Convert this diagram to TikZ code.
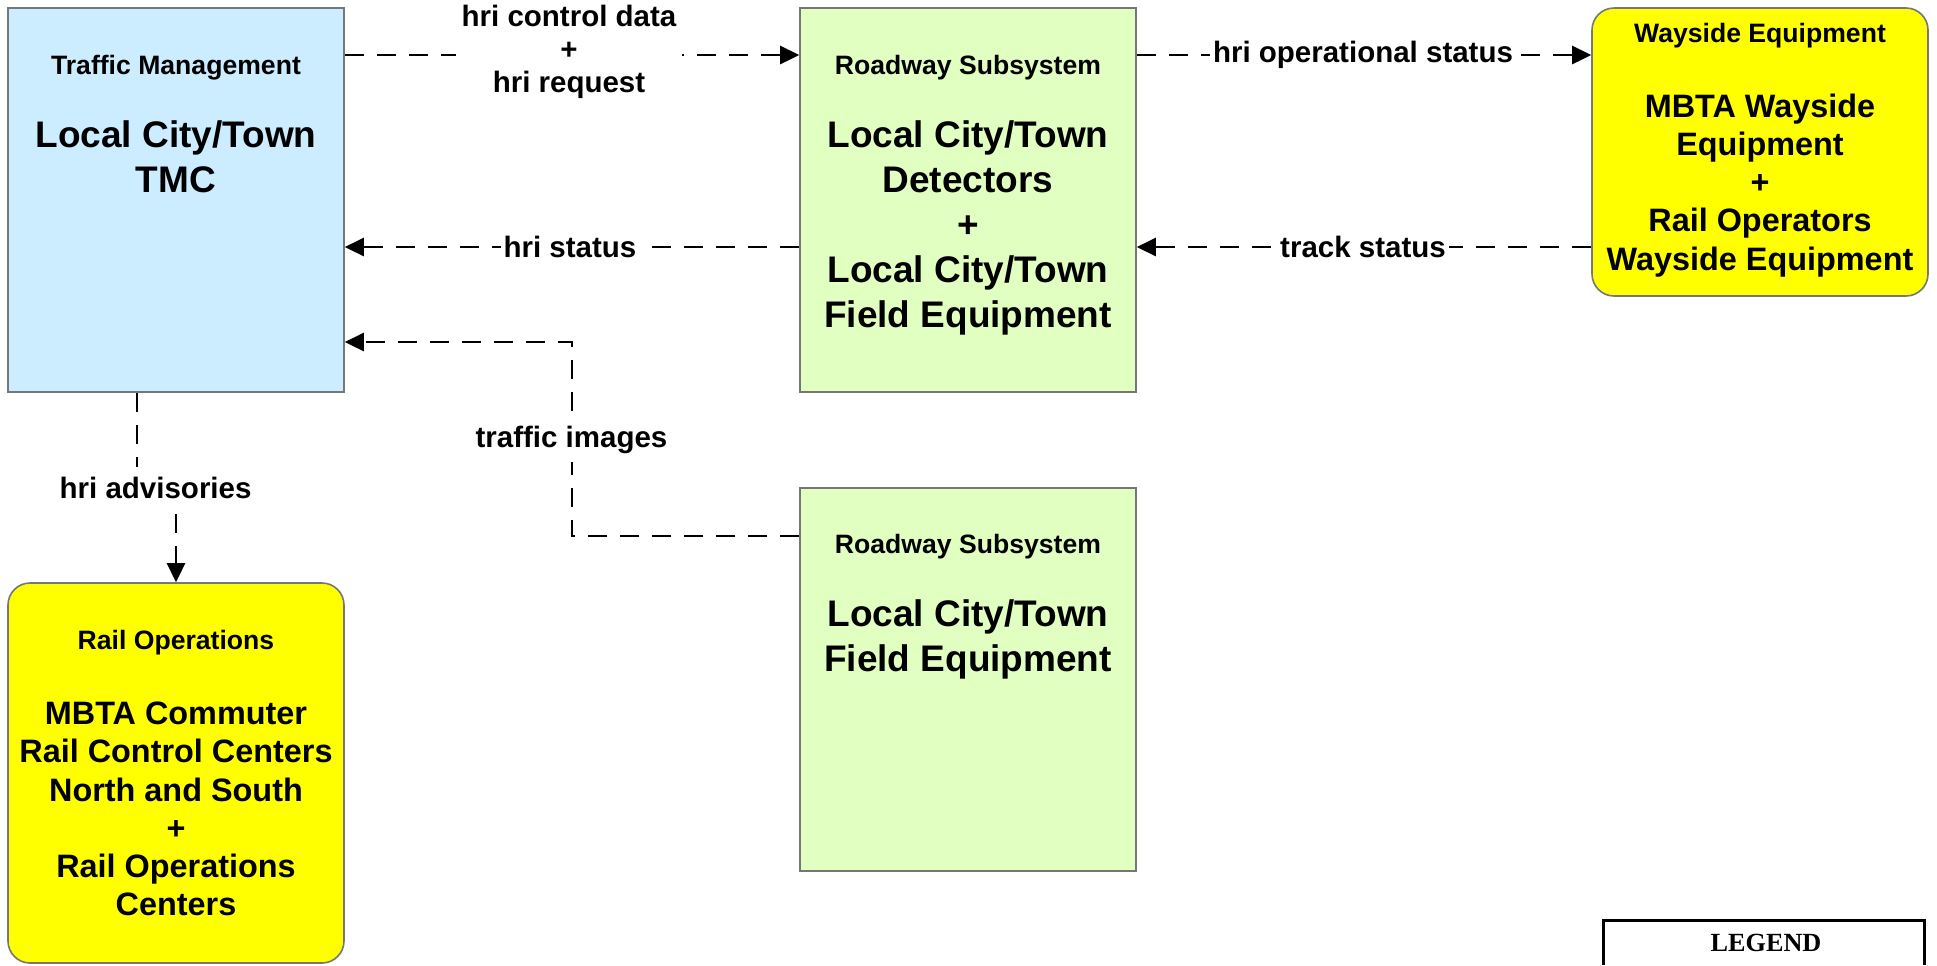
\documentclass[tikz,border=0pt]{standalone}
\usepackage{fontspec}
\setmainfont{Liberation Sans}
\newfontfamily\legendfont{Liberation Serif}
\usetikzlibrary{arrows.meta}

\definecolor{tmcblue}{RGB}{204,236,255}
\definecolor{rwgreen}{RGB}{226,255,194}
\definecolor{railyellow}{RGB}{255,255,0}
\definecolor{boxgray}{RGB}{118,118,118}

\begin{document}
\begin{tikzpicture}[x=0.5pt,y=-0.5pt,
  sysbox/.style={draw=boxgray, line width=0.8pt, inner sep=0pt, minimum width=168pt},
  rbox/.style={sysbox, rounded corners=11pt, fill=railyellow},
  hdr/.style={font=\fontsize{13.3}{16}\selectfont\bfseries, inner sep=0pt, anchor=base},
  big/.style={font=\fontsize{18.5}{22.45}\selectfont\bfseries, align=center, inner sep=0pt, anchor=north},
  mid/.style={font=\fontsize{16.2}{19.1}\selectfont\bfseries, align=center, inner sep=0pt, anchor=north},
  flow/.style={line width=1.3pt, dash pattern=on 9.5pt off 6.5pt, -{Triangle[length=9.5pt,width=9pt]}},
  flowlabel/.style={font=\fontsize{14.75}{16.5}\selectfont\bfseries, fill=white, align=center, inner xsep=1.5pt, inner ysep=1pt},
]
\useasboundingbox (0,0) rectangle (1937,965);

% boxes
\node[sysbox, fill=tmcblue, minimum height=192pt] (tmc) at (176,200) {};
\node[sysbox, fill=rwgreen, minimum height=192pt] (rw1) at (968,200) {};
\node[rbox, minimum height=144pt] (way) at (1760,152) {};
\node[rbox, minimum height=190pt] (rail) at (176,773) {};
\node[sysbox, fill=rwgreen, minimum height=191.5pt] (rw2) at (968,679.5) {};

% box texts
\node[hdr] (tmch) at (176,74) {Traffic Management};
\node[big] (tmcm) at (176,120.5) {Local City/Town\\TMC};
\node[hdr] (rw1h) at (968,74) {Roadway Subsystem};
\node[big] (rw1m) at (968,120.5) {Local City/Town\\Detectors\\+\\Local City/Town\\Field Equipment};
\node[hdr] (wayh) at (1760,42) {Wayside Equipment};
\node[mid] (waym) at (1760,93.5) {MBTA Wayside\\Equipment\\+\\Rail Operators\\Wayside Equipment};
\node[hdr] (railh) at (176,649) {Rail Operations};
\node[mid] (railm) at (176,701.7) {MBTA Commuter\\Rail Control Centers\\North and South\\+\\Rail Operations\\Centers};
\node[hdr] (rw2h) at (968,553) {Roadway Subsystem};
\node[big] (rw2m) at (968,599) {Local City/Town\\Field Equipment};

% connector levels
\coordinate (ytop) at (0,55);
\coordinate (ybot) at (0,247);
\coordinate (ti1) at (572,536);
\coordinate (ti2) at (572,342);
\coordinate (ad1) at (137,488);
\coordinate (ad2) at (176,488);

% connectors
\draw[flow] (tmc.east |- ytop) -- (rw1.west |- ytop);
\draw[flow] (rw1.west |- ybot) -- (tmc.east |- ybot);
\draw[flow] (rw1.east |- ytop) -- (way.west |- ytop);
\draw[flow] (way.west |- ybot) -- (rw1.east |- ybot);
\draw[flow] (rw2.west |- ti1) -- (ti1) -- (ti2) -- (tmc.east |- ti2);
\draw[flow] (tmc.south -| ad1) -- (ad1) -- (ad2) -- (rail.north);

% connector labels
\node[flowlabel, inner xsep=3pt] (l1) at (569,52) {hri control data\\+\\hri request};
\node[flowlabel] (l2) at (570,247) {hri status};
\node[flowlabel] (l3) at (1363,55) {hri operational status};
\node[flowlabel] (l4) at (1363,247) {track status};
\node[flowlabel, inner ysep=4pt] (l5) at (571.5,440) {traffic images};
\node[flowlabel, inner ysep=5pt] (l6) at (155.6,488) {hri advisories};

% legend
\node[font=\legendfont\fontsize{13.1}{15}\selectfont\bfseries, inner sep=0pt] (leg) at (1766,943) {LEGEND};
\draw[line width=1.5pt] (1603,965) -- (1603,920) -- (1924,920) -- (1924,965);
\end{tikzpicture}
\end{document}
